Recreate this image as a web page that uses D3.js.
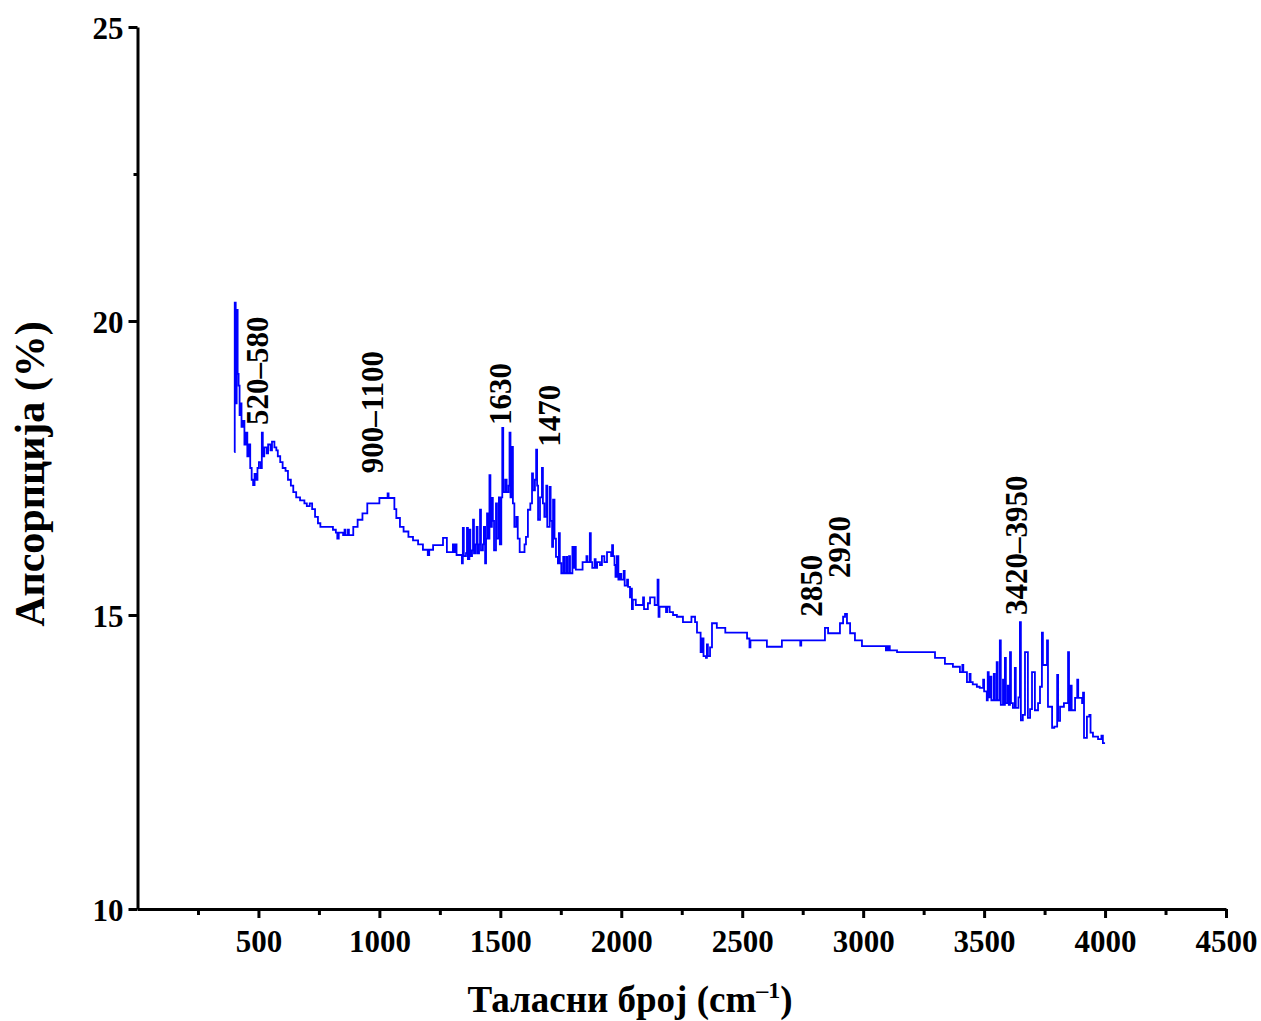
<!DOCTYPE html>
<html lang="sr">
<head>
  <meta charset="UTF-8">
  <title>FTIR</title>
  <style>
    *{ margin:0; padding:0 }
    html, body { width:100%; height:100%; background:#fff; overflow:hidden }
    svg { position:absolute; top:0; left:0 }
    text { font-family:"Liberation Serif", "Times New Roman", serif; font-weight:bold; fill:#000 }
    .axis path, .axis line { stroke:#000; stroke-width:3 }
    .tick text { font-size:31px }
  </style>
  <script src="https://cdn.jsdelivr.net/npm/d3@7/dist/d3.min.js"></script>
</head>
<body>
  <svg id="chart"></svg>
  <script>
    // spectrum, [wavenumber, absorption] (step line)
    const spectrum = [
      [400,17.77],[402,20.31],[406,18.6],[410,20.19],[414,19.1],[418,18.9],[422,18.4],[426,18.6],
      [430,18.2],[436,18.3],[442,17.9],[448,18.1],[454,17.7],[460,17.9],[466,17.5],[472,17.3],
      [478,17.21],[484,17.4],[490,17.3],[496,17.5],[502,17.6],[510,17.5],[514,18.1],[518,17.7],
      [524,17.85],[534,17.75],[540,17.9],[550,17.8],[556,17.95],[566,17.85],[574,17.8],[580,17.7],
      [590,17.6],[600,17.5],[612,17.45],[622,17.3],[634,17.2],[644,17.09],[656,17.0],[672,16.95],
      [690,16.9],[700,16.85],[712,16.9],[722,16.8],[734,16.67],[746,16.56],[756,16.5],[790,16.5],
      [808,16.45],[820,16.4],[826,16.3],[832,16.4],[850,16.36],[856,16.45],[860,16.36],[870,16.45],
      [874,16.36],[892,16.5],[910,16.62],[930,16.73],[950,16.9],[980,16.9],[1000,16.99],[1034,17.07],
      [1038,16.99],[1056,16.99],[1062,16.8],[1070,16.65],[1085,16.5],[1100,16.42],[1120,16.33],
      [1139,16.27],[1160,16.2],[1180,16.11],[1200,16.02],[1206,16.11],[1222,16.19],[1263,16.31],
      [1279,16.07],[1300,16.07],[1304,16.2],[1308,16.07],[1315,16.2],[1319,16.02],[1341,15.88],
      [1345,16.48],[1349,16.0],[1358,16.05],[1362,16.48],[1366,15.95],[1372,16.45],[1376,16.0],
      [1383,16.1],[1387,16.62],[1391,16.05],[1398,16.2],[1402,16.5],[1406,16.05],[1412,16.2],
      [1416,16.79],[1420,16.1],[1428,16.2],[1432,16.5],[1437,15.88],[1441,16.3],[1445,16.73],
      [1449,16.3],[1455,17.38],[1459,16.5],[1465,16.99],[1469,16.6],[1474,16.1],[1482,16.9],
      [1486,16.3],[1494,17.0],[1498,16.2],[1504,17.0],[1508,18.18],[1512,17.09],[1520,17.3],
      [1526,17.09],[1534,17.2],[1538,18.1],[1542,17.0],[1548,17.86],[1552,16.9],[1558,16.5],
      [1566,16.67],[1572,16.3],[1580,16.07],[1600,16.2],[1606,16.33],[1614,16.79],[1624,16.9],
      [1631,17.41],[1635,17.12],[1643,17.3],[1648,17.81],[1652,17.2],[1656,16.62],[1664,17.0],
      [1672,17.5],[1676,16.9],[1682,16.67],[1690,17.2],[1694,16.5],[1704,17.18],[1708,16.6],
      [1714,16.16],[1718,16.96],[1724,16.3],[1730,15.99],[1738,15.88],[1742,16.39],[1746,15.88],
      [1752,15.71],[1760,15.99],[1764,15.71],[1772,15.99],[1776,15.71],[1784,16.0],[1788,15.71],
      [1798,16.16],[1802,15.8],[1808,16.16],[1812,15.77],[1830,15.77],[1840,15.9],[1852,15.9],
      [1856,16.0],[1860,15.9],[1870,16.39],[1874,15.9],[1880,15.8],[1890,15.95],[1894,15.8],
      [1900,15.9],[1912,15.85],[1920,16.0],[1930,15.9],[1941,16.07],[1958,16.0],[1962,16.19],
      [1966,16.0],[1972,15.85],[1976,15.65],[1982,16.0],[1988,15.6],[1995,15.7],[2000,15.6],
      [2010,15.75],[2014,15.5],[2024,15.6],[2028,15.48],[2036,15.3],[2040,15.45],[2044,15.1],
      [2048,15.26],[2060,15.17],[2077,15.17],[2090,15.3],[2094,15.1],[2110,15.2],[2119,15.3],
      [2138,15.17],[2150,15.6],[2154,14.97],[2158,15.14],[2175,15.14],[2185,15.05],[2190,15.14],
      [2200,15.05],[2214,15.0],[2230,14.97],[2255,14.88],[2280,14.88],[2290,14.97],[2305,14.88],
      [2313,14.7],[2328,14.37],[2334,14.6],[2340,14.3],[2350,14.27],[2354,14.5],[2358,14.3],
      [2367,14.45],[2375,14.86],[2390,14.86],[2395,14.78],[2430,14.7],[2512,14.7],[2520,14.6],
      [2530,14.45],[2534,14.57],[2602,14.46],[2664,14.57],[2738,14.57],[2740,14.48],[2744,14.57],
      [2842,14.78],[2855,14.69],[2904,14.86],[2917,14.97],[2925,15.02],[2933,14.86],[2946,14.69],
      [2966,14.57],[2995,14.47],[3090,14.47],[3094,14.4],[3098,14.47],[3102,14.4],[3106,14.47],
      [3110,14.4],[3140,14.37],[3297,14.27],[3338,14.17],[3371,14.12],[3400,14.03],[3410,14.15],
      [3414,14.03],[3429,13.86],[3440,14.0],[3444,13.86],[3453,13.82],[3470,13.78],[3482,13.76],
      [3496,13.9],[3500,13.7],[3511,13.55],[3515,14.03],[3519,13.6],[3526,13.95],[3530,13.55],
      [3540,14.0],[3544,13.55],[3552,14.2],[3556,13.55],[3565,14.57],[3569,13.47],[3578,13.9],
      [3582,13.47],[3586,14.27],[3590,13.5],[3598,13.8],[3602,13.47],[3607,14.37],[3611,13.5],
      [3619,13.42],[3627,14.1],[3631,13.42],[3642,13.6],[3648,14.88],[3652,13.21],[3660,13.3],
      [3669,14.37],[3681,13.25],[3690,13.4],[3698,14.03],[3710,13.38],[3723,13.5],[3731,13.78],
      [3739,14.7],[3743,14.15],[3756,14.15],[3760,14.57],[3764,13.44],[3781,13.08],[3790,13.1],
      [3802,13.98],[3806,13.2],[3814,13.44],[3830,13.5],[3847,14.37],[3851,13.38],[3858,13.8],
      [3862,13.38],[3876,13.59],[3885,13.9],[3889,13.59],[3905,13.5],[3909,13.68],[3913,12.91],
      [3925,13.27],[3935,13.3],[3940,13.0],[3950,12.93],[3971,12.89],[3985,12.95],[3991,12.82],
      [4000,12.82]
    ];

    const xTicks = [500,1000,1500,2000,2500,3000,3500,4000,4500];
    const xMinor = [250,750,1250,1750,2250,2750,3250,3750,4250];
    const yTicks = [10,15,20,25];
    const yMinor = [22.5];

    // band labels: text, wavenumber and absorption at the foot of the rotated label
    const bandLabels = ["520–580","900–1100","1630","1470","2850","2920","3420–3950"];
    const bandX = [540,1015,1545,1747,2830,2945,3677];
    const bandY = [18.23,17.41,18.23,17.86,14.97,15.63,15.0];

    const W = 1261, H = 1021;
    const svg = d3.select("#chart").attr("width",W).attr("height",H);

    const x = d3.scaleLinear().domain([0,4500]).range([137.5,1226]);
    const y = d3.scaleLinear().domain([10,25]).range([909,27]);

    // line
    svg.append("path")
      .datum(spectrum)
      .attr("fill","none")
      .attr("stroke","#0000ff")
      .attr("stroke-width",1.8)
      .attr("d", d3.line().curve(d3.curveStepAfter).x(d=>x(d[0])).y(d=>y(d[1])));

    // axes
    const gx = svg.append("g").attr("class","axis").attr("transform",`translate(0,${y(10)})`)
      .call(d3.axisBottom(x).tickValues(xTicks).tickSize(9).tickSizeOuter(0).tickPadding(5)
        .tickFormat(d3.format("d")));
    gx.selectAll(".tick text").attr("dy","0.95em");
    svg.append("g").attr("class","axis").attr("transform",`translate(0,${y(10)})`)
      .call(d3.axisBottom(x).tickValues(xMinor).tickSize(6).tickFormat(""))
      .select(".domain").remove();

    const gy = svg.append("g").attr("class","axis").attr("transform",`translate(${x(0)},0)`)
      .call(d3.axisLeft(y).tickValues(yTicks).tickSize(9).tickSizeOuter(0).tickPadding(5)
        .tickFormat(d3.format("d")));
    gy.selectAll(".tick text").attr("dy","0.36em");
    svg.append("g").attr("class","axis").attr("transform",`translate(${x(0)},0)`)
      .call(d3.axisLeft(y).tickValues(yMinor).tickSize(4).tickFormat(""))
      .select(".domain").remove();

    // band annotations
    svg.append("g").selectAll("text")
      .data(bandLabels).join("text")
      .attr("transform",(d,i)=>`translate(${x(bandX[i])},${y(bandY[i])}) rotate(-90)`)
      .attr("font-size",31)
      .text(d=>d);

    // axis titles
    const xt = svg.append("text")
      .attr("x",630).attr("y",1012)
      .attr("text-anchor","middle")
      .attr("font-size",37);
    xt.append("tspan").text("Таласни број (cm");
    xt.append("tspan").attr("font-size",24).attr("dy",-14).text("–1");
    xt.append("tspan").attr("dy",14).text(")");

    svg.append("text")
      .attr("transform","translate(44,474) rotate(-90)")
      .attr("text-anchor","middle")
      .attr("font-size",42)
      .text("Апсорпција (%)");
  </script>
</body>
</html>
